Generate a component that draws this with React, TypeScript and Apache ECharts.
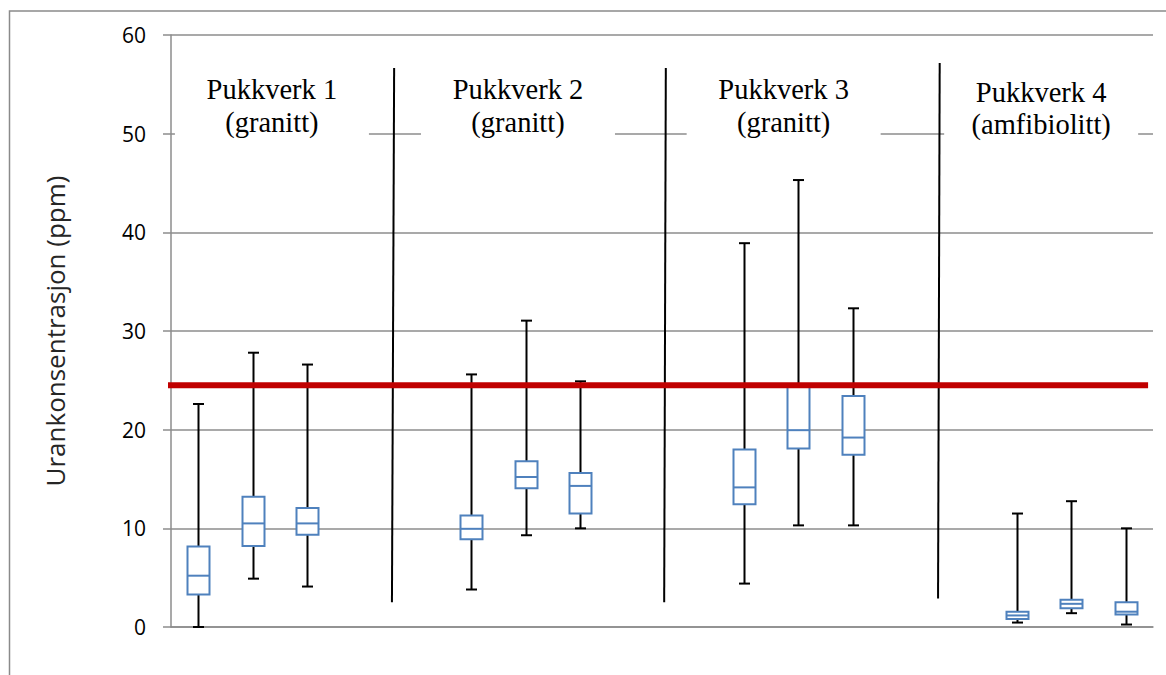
import React, { useEffect, useRef } from "react";
import * as echarts from "echarts";

// ---- data ----
const categories = [
  "P1-A", "P1-B", "P1-C", "S1-A", "S1-B",
  "P2-A", "P2-B", "P2-C", "S2-A", "S2-B",
  "P3-A", "P3-B", "P3-C", "S3-A", "S3-B",
  "P4-A", "P4-B", "P4-C",
];
const boxSlots = ["P1-A", "P1-B", "P1-C", "P2-A", "P2-B", "P2-C", "P3-A", "P3-B", "P3-C", "P4-A", "P4-B", "P4-C"];
const whiskerLow = [0.0, 4.9, 4.1, 3.8, 9.3, 10.0, 4.4, 10.3, 10.3, 0.45, 1.4, 0.25];
const quartile1 = [3.3, 8.2, 9.35, 8.9, 14.05, 11.5, 12.45, 18.1, 17.45, 0.8, 1.9, 1.27];
const medians = [5.2, 10.5, 10.5, 9.95, 15.2, 14.3, 14.15, 19.95, 19.2, 1.17, 2.35, 1.55];
const quartile3 = [8.15, 13.2, 12.05, 11.3, 16.8, 15.6, 18.0, 24.5, 23.4, 1.55, 2.75, 2.5];
const whiskerHigh = [22.6, 27.8, 26.6, 25.6, 31.05, 24.9, 38.9, 45.3, 32.3, 11.5, 12.75, 10.0];

const yMin = 0;
const yMax = 60;
const yStep = 10;

const limitValue = 24.5;
const limitSpan = [-0.33, 17.91];

const separatorTopX = [4.09, 9.07, 14.09];
const separatorBottomX = [4.05, 9.04, 14.06];
const separatorTopY = [56.65, 56.65, 57.15];
const separatorBottomY = [2.5, 2.5, 2.9];

const groupTitles = ["Pukkverk 1", "Pukkverk 2", "Pukkverk 3", "Pukkverk 4"];
const groupRocks = ["(granitt)", "(granitt)", "(granitt)", "(amfibiolitt)"];
const groupCenterX = [1.85, 6.36, 11.23, 15.95];
const groupLineY = [54.45, 54.45, 54.45, 54.2];

const yAxisTitle = "Urankonsentrasjon (ppm)";

export default function App() {
  const ref = useRef<HTMLDivElement | null>(null);

  useEffect(() => {
    if (!ref.current) return;
    const chart = echarts.init(ref.current, undefined, { renderer: "svg" });

    const gridColor = "#8c8c8c";
    const boxBlue = "#4f81bd";

    const boxData = boxSlots.map((c, i) => [c, whiskerLow[i], quartile1[i], medians[i], quartile3[i], whiskerHigh[i]]);
    const labelData = groupCenterX.map((x, i) => [x, groupLineY[i], i]);

    const separatorSeries = separatorTopX.map((_, i) => ({
      type: "line",
      xAxisIndex: 1,
      yAxisIndex: 0,
      symbol: "none",
      clip: false,
      silent: true,
      z: 4,
      lineStyle: { color: "#000", width: 2 },
      data: [
        [separatorTopX[i], separatorTopY[i]],
        [separatorBottomX[i], separatorBottomY[i]],
      ],
    }));

    const option: any = {
      animation: false,
      backgroundColor: "#fff",
      grid: { left: 171, right: 13, top: 35, bottom: 48, containLabel: false },
      graphic: [
        {
          type: "rect",
          z: 0,
          shape: { x: 9.5, y: 11, width: 1200, height: 700 },
          style: { fill: "none", stroke: "#8a8a8a", lineWidth: 1.5 },
        },
        {
          type: "text",
          x: 55,
          y: 331,
          rotation: Math.PI / 2,
          style: {
            text: yAxisTitle,
            x: 0,
            y: 0,
            align: "center",
            verticalAlign: "middle",
            font: "26px 'Open Sans'",
            fill: "#262626",
          },
        },
      ],
      xAxis: [
        {
          type: "category",
          data: categories,
          boundaryGap: true,
          axisLine: { show: true, lineStyle: { color: gridColor, width: 1.5 } },
          axisTick: { show: false },
          axisLabel: { show: false },
          splitLine: { show: false },
        },
        {
          type: "value",
          min: 0,
          max: categories.length,
          show: false,
        },
      ],
      yAxis: {
        type: "value",
        min: yMin,
        max: yMax,
        interval: yStep,
        axisLine: { show: true, lineStyle: { color: gridColor, width: 1.5 } },
        axisTick: { show: true, length: 8, lineStyle: { color: gridColor, width: 1.5 } },
        axisLabel: {
          margin: 25,
          fontSize: 21,
          fontFamily: "'Open Sans'",
          color: "#000",
        },
        splitLine: { show: true, lineStyle: { color: gridColor, width: 1.5 } },
      },
      series: [
        {
          type: "custom",
          name: "labels",
          xAxisIndex: 1,
          yAxisIndex: 0,
          z: 3,
          silent: true,
          clip: false,
          data: labelData,
          renderItem: (params: any, api: any) => {
            const idx = api.value(2);
            const p = api.coord([api.value(0), api.value(1)]);
            const cx = p[0];
            const y1 = p[1];
            return {
              type: "group",
              children: [
                {
                  type: "rect",
                  shape: { x: cx - 97, y: y1 - 20, width: 194, height: 76 },
                  style: { fill: "#fff", stroke: "none" },
                },
                {
                  type: "text",
                  style: {
                    text: groupTitles[idx],
                    x: cx,
                    y: y1,
                    align: "center",
                    verticalAlign: "middle",
                    font: "28.5px 'Liberation Serif'",
                    fill: "#000",
                  },
                },
                {
                  type: "text",
                  style: {
                    text: groupRocks[idx],
                    x: cx,
                    y: y1 + 32.5,
                    align: "center",
                    verticalAlign: "middle",
                    font: "28.5px 'Liberation Serif'",
                    fill: "#000",
                  },
                },
              ],
            };
          },
        },
        {
          type: "custom",
          name: "boxes",
          xAxisIndex: 0,
          yAxisIndex: 0,
          z: 3,
          data: boxData,
          encode: { x: 0, y: [1, 2, 3, 4, 5] },
          renderItem: (params: any, api: any) => {
            const xi = api.value(0);
            const pLow = api.coord([xi, api.value(1)]);
            const pQ1 = api.coord([xi, api.value(2)]);
            const pMed = api.coord([xi, api.value(3)]);
            const pQ3 = api.coord([xi, api.value(4)]);
            const pHigh = api.coord([xi, api.value(5)]);
            const cx = Math.round(pLow[0]) + 0.5;
            const bw = 22;
            const cw = 11;
            const wStyle = { stroke: "#000", lineWidth: 2 };
            const bStyle = { stroke: boxBlue, lineWidth: 2 };
            return {
              type: "group",
              children: [
                { type: "line", shape: { x1: cx, y1: pHigh[1], x2: cx, y2: pLow[1] }, style: wStyle },
                { type: "line", shape: { x1: cx - cw / 2, y1: pHigh[1], x2: cx + cw / 2, y2: pHigh[1] }, style: wStyle },
                { type: "line", shape: { x1: cx - cw / 2, y1: pLow[1], x2: cx + cw / 2, y2: pLow[1] }, style: wStyle },
                {
                  type: "rect",
                  shape: { x: cx - bw / 2, y: pQ3[1], width: bw, height: pQ1[1] - pQ3[1] },
                  style: { fill: "#fff", stroke: boxBlue, lineWidth: 2 },
                },
                { type: "line", shape: { x1: cx - bw / 2, y1: pMed[1], x2: cx + bw / 2, y2: pMed[1] }, style: bStyle },
              ],
            };
          },
        },
        ...separatorSeries,
        {
          type: "line",
          name: "limit",
          xAxisIndex: 1,
          yAxisIndex: 0,
          symbol: "none",
          clip: false,
          silent: true,
          z: 6,
          lineStyle: { color: "#c00000", width: 6 },
          data: [
            [limitSpan[0], limitValue],
            [limitSpan[1], limitValue],
          ],
        },
      ],
    };

    chart.setOption(option);
    return () => {
      chart.dispose();
    };
  }, []);

  return (
    <div
      ref={ref}
      style={{ position: "fixed", left: 0, top: 0, width: 1166, height: 675, background: "#fff" }}
    />
  );
}
